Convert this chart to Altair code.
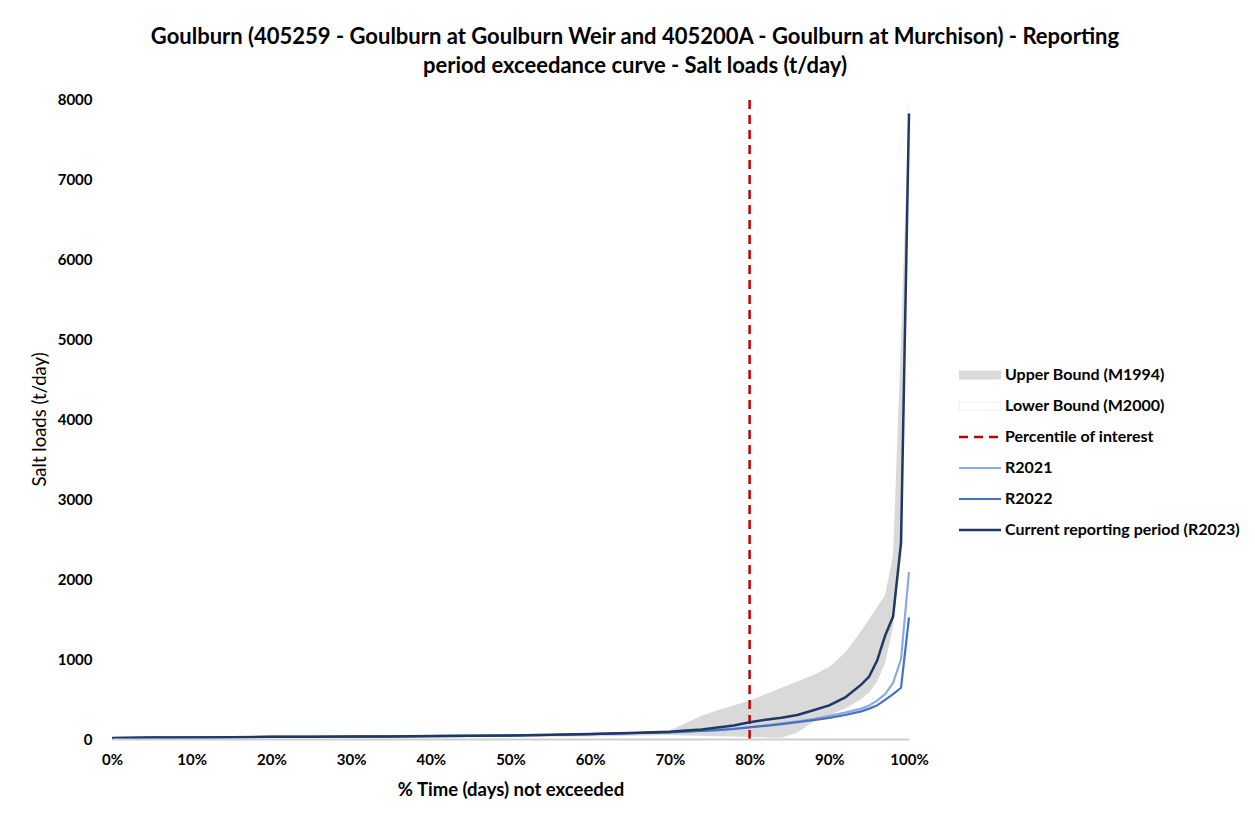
import altair as alt
import pandas as pd

FONT = "Lato"

pct = [0, 5, 10, 15, 20, 25, 30, 35, 40, 45, 50, 55, 60, 65,
       70, 72, 74, 76, 78, 80, 82, 84, 86, 88, 90, 92, 94, 95, 96, 97, 98, 99, 100]

upper_m1994 = [18, 22, 24, 26, 30, 32, 34, 36, 40, 44, 50, 56, 66, 78,
               110, 200, 290, 360, 420, 480, 560, 640, 720, 800, 900, 1080, 1350, 1500, 1650, 1800, 2300, 5000, 8000]
lower_m2000 = [5, 8, 10, 12, 14, 15, 16, 18, 20, 22, 25, 28, 32, 40,
               50, 45, 40, 35, 30, 25, 20, 15, 80, 220, 300, 380, 500, 580, 720, 950, 1400, 2400, 7800]
r2021 = [12, 18, 20, 22, 27, 28, 30, 32, 37, 40, 44, 50, 60, 72,
         85, 95, 105, 115, 130, 150, 170, 195, 220, 250, 290, 330, 380, 420, 480, 560, 700, 1000, 2090]
r2022 = [12, 18, 20, 22, 27, 28, 30, 32, 37, 40, 44, 50, 60, 72,
         84, 92, 100, 110, 125, 145, 165, 185, 210, 235, 265, 300, 345, 380, 420, 490, 560, 640, 1520]
r2023 = [12, 18, 20, 22, 28, 28, 30, 32, 38, 40, 45, 52, 62, 75,
         90, 105, 120, 145, 170, 210, 240, 265, 300, 360, 420, 520, 680, 780, 980, 1290, 1530, 2450, 7820]

percentile_x = [80, 80]
percentile_y = [0, 8000]

legend_labels = ["Upper Bound (M1994)", "Lower Bound (M2000)", "Percentile of interest",
                 "R2021", "R2022", "Current reporting period (R2023)"]

band = pd.DataFrame({"pct": pct, "lower": lower_m2000, "upper": upper_m1994})
lines = pd.concat([
    pd.DataFrame({"pct": pct, "load": r2021, "series": "R2021"}),
    pd.DataFrame({"pct": pct, "load": r2022, "series": "R2022"}),
    pd.DataFrame({"pct": pct, "load": r2023, "series": "Current reporting period (R2023)"}),
])
perc = pd.DataFrame({"pct": [percentile_x[0]], "y0": [percentile_y[0]], "y1": [percentile_y[1]]})

xscale = alt.Scale(domain=[0, 100], nice=False)
yscale = alt.Scale(domain=[0, 8000], nice=False)

xax = alt.Axis(values=list(range(0, 101, 10)), labelExpr="datum.value + '%'", title="% Time (days) not exceeded",
               grid=False, ticks=False, domainColor="#cfcfcf", domainWidth=2, labelFlush=False, zindex=1,
               labelFont=FONT, labelFontWeight="bold", labelFontSize=15, labelColor="#000000", labelPadding=13,
               titleFont=FONT, titleFontWeight="bold", titleFontSize=18.5, titleColor="#000000", titlePadding=13)
yax = alt.Axis(values=list(range(0, 8001, 1000)), format="d", title="Salt loads (t/day)", grid=False, ticks=False,
               domain=False,
               labelFont=FONT, labelFontWeight="bold", labelFontSize=15, labelColor="#000000", labelPadding=20,
               titleFont=FONT, titleFontWeight="normal", titleFontSize=18.5, titleColor="#000000", titlePadding=8)

area = alt.Chart(band).mark_area(color="#d9d9d9", opacity=1).encode(
    x=alt.X("pct:Q", scale=xscale, axis=xax),
    y=alt.Y("lower:Q", scale=yscale, axis=yax),
    y2="upper:Q",
)

rule = alt.Chart(perc).mark_rule(color="#c00000", strokeWidth=2.5, strokeDash=[9, 6]).encode(
    x="pct:Q", y="y0:Q", y2="y1:Q"
)

colors = alt.Scale(domain=["R2021", "R2022", "Current reporting period (R2023)"],
                   range=["#8faadc", "#4472c4", "#1f3864"])
line_layers = []
for s, w in [("R2021", 2.2), ("R2022", 2.2), ("Current reporting period (R2023)", 2.5)]:
    line_layers.append(
        alt.Chart(lines[lines.series == s]).mark_line(strokeWidth=w).encode(
            x="pct:Q", y="load:Q", color=alt.Color("series:N", scale=colors, legend=None)
        )
    )

main = alt.layer(area, rule, *line_layers).properties(width=797, height=640)

# manual legend
leg = pd.DataFrame({"label": legend_labels, "idx": list(range(len(legend_labels)))})
ly = alt.Y("idx:Q", scale=alt.Scale(domain=[0, 5], range=[276, 431]), axis=None)
def item(i):
    return alt.Chart(leg[leg.idx == i])

glyphs = [
    item(0).mark_rule(color="#d9d9d9", strokeWidth=9).encode(x=alt.value(10), x2=alt.value(52), y=ly),
    item(1).mark_rule(color="#eeeeee", strokeWidth=9).encode(x=alt.value(10), x2=alt.value(52), y=ly),
    item(1).mark_rule(color="#ffffff", strokeWidth=7).encode(x=alt.value(11), x2=alt.value(51), y=ly),
    item(2).mark_rule(color="#c00000", strokeWidth=2.5, strokeDash=[9, 6]).encode(x=alt.value(10), x2=alt.value(52), y=ly),
    item(3).mark_rule(color="#8faadc", strokeWidth=2.2).encode(x=alt.value(10), x2=alt.value(52), y=ly),
    item(4).mark_rule(color="#4472c4", strokeWidth=2.2).encode(x=alt.value(10), x2=alt.value(52), y=ly),
    item(5).mark_rule(color="#1f3864", strokeWidth=2.5).encode(x=alt.value(10), x2=alt.value(52), y=ly),
]
texts = alt.Chart(leg).mark_text(align="left", baseline="middle", font=FONT, fontWeight="bold",
                                 fontSize=16, color="#000000").encode(
    x=alt.value(56), y=ly, text="label:N")
legend_chart = alt.layer(*glyphs, texts).properties(width=290, height=640)

chart = alt.hconcat(main, legend_chart, spacing=40, bounds="flush").properties(
    title=alt.Title(
        ["Goulburn (405259 - Goulburn at Goulburn Weir and 405200A - Goulburn at Murchison) - Reporting",
         "period exceedance curve - Salt loads (t/day)"],
        font=FONT, fontSize=22, fontWeight="bold", color="#000000", anchor="middle", offset=14, lineHeight=29,
    ),
    padding={"left": 22, "top": 18, "right": 5, "bottom": 5},
).configure(background="white").configure_view(strokeWidth=0, stroke="transparent")

chart.save("out.html", embed_options={"renderer": "svg", "actions": False})
